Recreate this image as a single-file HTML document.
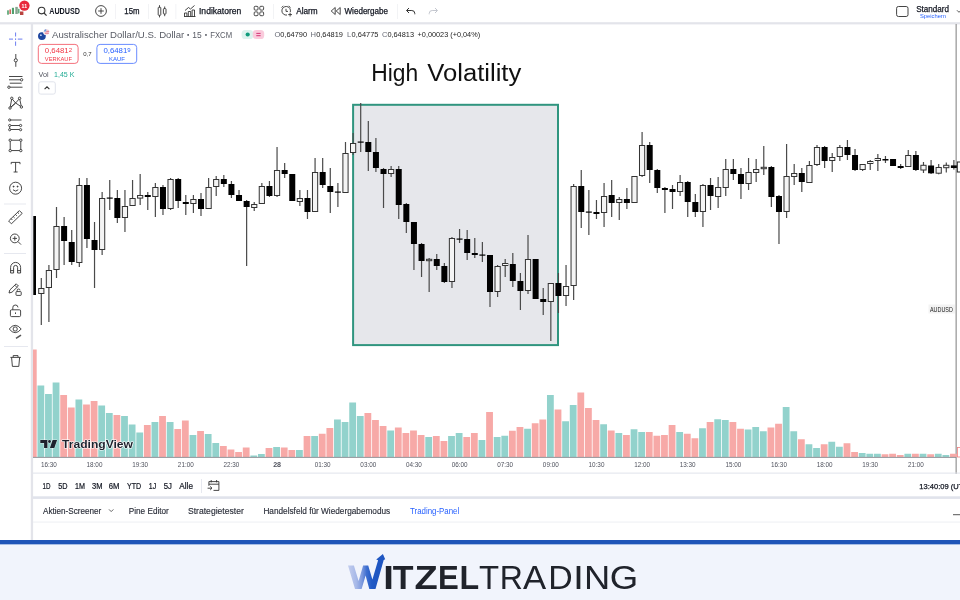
<!DOCTYPE html><html><head><meta charset="utf-8"><style>html,body{margin:0;padding:0;background:#fff;width:960px;height:600px;overflow:hidden}svg{display:block;will-change:transform;opacity:0.9999}</style></head><body><svg width="960" height="600" viewBox="0 0 960 600" font-family="Liberation Sans, sans-serif">
<rect width="960" height="600" fill="#fff"/>
<rect x="0" y="22.2" width="960" height="2.2" fill="#e3e4ea"/>
<rect x="30.8" y="24" width="2.3" height="516" fill="#e3e4ea"/>
<rect x="955.5" y="24" width="1.3" height="450" fill="#9b9b9b"/>
<rect x="353.1" y="104.8" width="204.9" height="240.3" fill="#e6e7eb" stroke="#30957f" stroke-width="2"/>
<rect x="33" y="349.5" width="3.7" height="107.5" fill="#f7a9a7"/>
<rect x="37.45" y="385.5" width="6.8" height="71.50" fill="#92d2cc"/>
<rect x="45.05" y="394" width="6.8" height="63.00" fill="#92d2cc"/>
<rect x="52.65" y="382.5" width="6.8" height="74.50" fill="#92d2cc"/>
<rect x="60.26" y="395" width="6.8" height="62.00" fill="#f7a9a7"/>
<rect x="67.87" y="407.5" width="6.8" height="49.50" fill="#f7a9a7"/>
<rect x="75.47" y="399.5" width="6.8" height="57.50" fill="#92d2cc"/>
<rect x="83.08" y="404.5" width="6.8" height="52.50" fill="#f7a9a7"/>
<rect x="90.68" y="401" width="6.8" height="56.00" fill="#f7a9a7"/>
<rect x="98.28" y="405.5" width="6.8" height="51.50" fill="#92d2cc"/>
<rect x="105.89" y="413" width="6.8" height="44.00" fill="#92d2cc"/>
<rect x="113.50" y="415" width="6.8" height="42.00" fill="#f7a9a7"/>
<rect x="121.10" y="416" width="6.8" height="41.00" fill="#92d2cc"/>
<rect x="128.71" y="424.5" width="6.8" height="32.50" fill="#92d2cc"/>
<rect x="136.31" y="432.5" width="6.8" height="24.50" fill="#92d2cc"/>
<rect x="143.92" y="425" width="6.8" height="32.00" fill="#f7a9a7"/>
<rect x="151.52" y="422" width="6.8" height="35.00" fill="#92d2cc"/>
<rect x="159.12" y="416" width="6.8" height="41.00" fill="#f7a9a7"/>
<rect x="166.73" y="422" width="6.8" height="35.00" fill="#92d2cc"/>
<rect x="174.34" y="429" width="6.8" height="28.00" fill="#f7a9a7"/>
<rect x="181.94" y="420.5" width="6.8" height="36.50" fill="#f7a9a7"/>
<rect x="189.55" y="435" width="6.8" height="22.00" fill="#92d2cc"/>
<rect x="197.15" y="431" width="6.8" height="26.00" fill="#f7a9a7"/>
<rect x="204.76" y="434" width="6.8" height="23.00" fill="#92d2cc"/>
<rect x="212.36" y="443" width="6.8" height="14.00" fill="#92d2cc"/>
<rect x="219.97" y="446" width="6.8" height="11.00" fill="#f7a9a7"/>
<rect x="227.57" y="449.5" width="6.8" height="7.50" fill="#f7a9a7"/>
<rect x="235.18" y="452" width="6.8" height="5.00" fill="#f7a9a7"/>
<rect x="242.78" y="447.5" width="6.8" height="9.50" fill="#f7a9a7"/>
<rect x="250.39" y="455.5" width="6.8" height="1.50" fill="#92d2cc"/>
<rect x="257.99" y="454" width="6.8" height="3.00" fill="#92d2cc"/>
<rect x="265.59" y="448" width="6.8" height="9.00" fill="#f7a9a7"/>
<rect x="273.20" y="447" width="6.8" height="10.00" fill="#92d2cc"/>
<rect x="280.81" y="447.5" width="6.8" height="9.50" fill="#f7a9a7"/>
<rect x="288.41" y="450" width="6.8" height="7.00" fill="#f7a9a7"/>
<rect x="296.01" y="450" width="6.8" height="7.00" fill="#92d2cc"/>
<rect x="303.62" y="436" width="6.8" height="21.00" fill="#f7a9a7"/>
<rect x="311.22" y="436" width="6.8" height="21.00" fill="#92d2cc"/>
<rect x="318.83" y="433.75" width="6.8" height="23.25" fill="#f7a9a7"/>
<rect x="326.43" y="428" width="6.8" height="29.00" fill="#f7a9a7"/>
<rect x="334.04" y="419.5" width="6.8" height="37.50" fill="#92d2cc"/>
<rect x="341.64" y="422" width="6.8" height="35.00" fill="#92d2cc"/>
<rect x="349.25" y="402.5" width="6.8" height="54.50" fill="#92d2cc"/>
<rect x="356.85" y="416" width="6.8" height="41.00" fill="#92d2cc"/>
<rect x="364.46" y="413" width="6.8" height="44.00" fill="#f7a9a7"/>
<rect x="372.06" y="420" width="6.8" height="37.00" fill="#f7a9a7"/>
<rect x="379.67" y="426" width="6.8" height="31.00" fill="#f7a9a7"/>
<rect x="387.27" y="430.5" width="6.8" height="26.50" fill="#92d2cc"/>
<rect x="394.88" y="427.5" width="6.8" height="29.50" fill="#f7a9a7"/>
<rect x="402.48" y="433" width="6.8" height="24.00" fill="#f7a9a7"/>
<rect x="410.09" y="430.5" width="6.8" height="26.50" fill="#f7a9a7"/>
<rect x="417.69" y="435" width="6.8" height="22.00" fill="#f7a9a7"/>
<rect x="425.30" y="437" width="6.8" height="20.00" fill="#92d2cc"/>
<rect x="432.90" y="436" width="6.8" height="21.00" fill="#f7a9a7"/>
<rect x="440.51" y="441" width="6.8" height="16.00" fill="#f7a9a7"/>
<rect x="448.11" y="436" width="6.8" height="21.00" fill="#92d2cc"/>
<rect x="455.72" y="433" width="6.8" height="24.00" fill="#92d2cc"/>
<rect x="463.32" y="437" width="6.8" height="20.00" fill="#f7a9a7"/>
<rect x="470.93" y="433" width="6.8" height="24.00" fill="#f7a9a7"/>
<rect x="478.53" y="440" width="6.8" height="17.00" fill="#92d2cc"/>
<rect x="486.14" y="412" width="6.8" height="45.00" fill="#f7a9a7"/>
<rect x="493.75" y="437" width="6.8" height="20.00" fill="#92d2cc"/>
<rect x="501.35" y="435.75" width="6.8" height="21.25" fill="#92d2cc"/>
<rect x="508.96" y="430.75" width="6.8" height="26.25" fill="#f7a9a7"/>
<rect x="516.56" y="427" width="6.8" height="30.00" fill="#f7a9a7"/>
<rect x="524.16" y="428.75" width="6.8" height="28.25" fill="#92d2cc"/>
<rect x="531.77" y="423.25" width="6.8" height="33.75" fill="#f7a9a7"/>
<rect x="539.38" y="419.5" width="6.8" height="37.50" fill="#f7a9a7"/>
<rect x="546.98" y="395" width="6.8" height="62.00" fill="#92d2cc"/>
<rect x="554.59" y="409.5" width="6.8" height="47.50" fill="#f7a9a7"/>
<rect x="562.19" y="421.25" width="6.8" height="35.75" fill="#92d2cc"/>
<rect x="569.79" y="405" width="6.8" height="52.00" fill="#92d2cc"/>
<rect x="577.40" y="392.5" width="6.8" height="64.50" fill="#f7a9a7"/>
<rect x="585.00" y="408" width="6.8" height="49.00" fill="#f7a9a7"/>
<rect x="592.61" y="420" width="6.8" height="37.00" fill="#f7a9a7"/>
<rect x="600.22" y="424.25" width="6.8" height="32.75" fill="#92d2cc"/>
<rect x="607.82" y="430.5" width="6.8" height="26.50" fill="#f7a9a7"/>
<rect x="615.42" y="433" width="6.8" height="24.00" fill="#92d2cc"/>
<rect x="623.03" y="435" width="6.8" height="22.00" fill="#f7a9a7"/>
<rect x="630.63" y="429.25" width="6.8" height="27.75" fill="#92d2cc"/>
<rect x="638.24" y="432" width="6.8" height="25.00" fill="#92d2cc"/>
<rect x="645.85" y="432" width="6.8" height="25.00" fill="#f7a9a7"/>
<rect x="653.45" y="435.75" width="6.8" height="21.25" fill="#f7a9a7"/>
<rect x="661.05" y="435" width="6.8" height="22.00" fill="#f7a9a7"/>
<rect x="668.66" y="425" width="6.8" height="32.00" fill="#f7a9a7"/>
<rect x="676.26" y="432" width="6.8" height="25.00" fill="#92d2cc"/>
<rect x="683.87" y="433.75" width="6.8" height="23.25" fill="#f7a9a7"/>
<rect x="691.48" y="438.25" width="6.8" height="18.75" fill="#f7a9a7"/>
<rect x="699.08" y="428.25" width="6.8" height="28.75" fill="#92d2cc"/>
<rect x="706.68" y="422" width="6.8" height="35.00" fill="#f7a9a7"/>
<rect x="714.29" y="419.25" width="6.8" height="37.75" fill="#92d2cc"/>
<rect x="721.89" y="420" width="6.8" height="37.00" fill="#92d2cc"/>
<rect x="729.50" y="422" width="6.8" height="35.00" fill="#f7a9a7"/>
<rect x="737.11" y="428.75" width="6.8" height="28.25" fill="#f7a9a7"/>
<rect x="744.71" y="429.5" width="6.8" height="27.50" fill="#92d2cc"/>
<rect x="752.31" y="427" width="6.8" height="30.00" fill="#92d2cc"/>
<rect x="759.92" y="431.25" width="6.8" height="25.75" fill="#92d2cc"/>
<rect x="767.52" y="427.5" width="6.8" height="29.50" fill="#f7a9a7"/>
<rect x="775.13" y="423.75" width="6.8" height="33.25" fill="#f7a9a7"/>
<rect x="782.74" y="407" width="6.8" height="50.00" fill="#92d2cc"/>
<rect x="790.34" y="431.25" width="6.8" height="25.75" fill="#92d2cc"/>
<rect x="797.95" y="439.25" width="6.8" height="17.75" fill="#f7a9a7"/>
<rect x="805.55" y="444.25" width="6.8" height="12.75" fill="#92d2cc"/>
<rect x="813.15" y="448" width="6.8" height="9.00" fill="#92d2cc"/>
<rect x="820.76" y="444.25" width="6.8" height="12.75" fill="#f7a9a7"/>
<rect x="828.37" y="441.75" width="6.8" height="15.25" fill="#92d2cc"/>
<rect x="835.97" y="446.75" width="6.8" height="10.25" fill="#92d2cc"/>
<rect x="843.58" y="443.25" width="6.8" height="13.75" fill="#f7a9a7"/>
<rect x="851.18" y="452" width="6.8" height="5.00" fill="#f7a9a7"/>
<rect x="858.78" y="453" width="6.8" height="4.00" fill="#92d2cc"/>
<rect x="866.39" y="453.75" width="6.8" height="3.25" fill="#92d2cc"/>
<rect x="874.00" y="453.75" width="6.8" height="3.25" fill="#92d2cc"/>
<rect x="881.60" y="454.25" width="6.8" height="2.75" fill="#f7a9a7"/>
<rect x="889.21" y="453.75" width="6.8" height="3.25" fill="#f7a9a7"/>
<rect x="896.81" y="455" width="6.8" height="2.00" fill="#f7a9a7"/>
<rect x="904.41" y="453.75" width="6.8" height="3.25" fill="#92d2cc"/>
<rect x="912.02" y="453.75" width="6.8" height="3.25" fill="#f7a9a7"/>
<rect x="919.62" y="453.75" width="6.8" height="3.25" fill="#92d2cc"/>
<rect x="927.23" y="454.25" width="6.8" height="2.75" fill="#f7a9a7"/>
<rect x="934.84" y="453.75" width="6.8" height="3.25" fill="#92d2cc"/>
<rect x="942.44" y="455" width="6.8" height="2.00" fill="#92d2cc"/>
<rect x="950.04" y="453.75" width="6.8" height="3.25" fill="#f7a9a7"/>
<rect x="957.5" y="447.5" width="4" height="9.5" fill="#fff" stroke="#f08080" stroke-width="0.8"/>
<rect x="33" y="456.9" width="923" height="0.9" fill="#85888e"/>
<rect x="33.3" y="216" width="2.7" height="79" fill="#000"/>
<rect x="40.70" y="278" width="1.2" height="47" fill="#4a4a4a"/>
<rect x="38.70" y="288.5" width="5.2" height="5" fill="#f4f4f4" stroke="#333" stroke-width="1"/>
<rect x="48.30" y="265" width="1.2" height="57" fill="#4a4a4a"/>
<rect x="46.30" y="270.5" width="5.2" height="17" fill="#f4f4f4" stroke="#333" stroke-width="1"/>
<rect x="55.90" y="207" width="1.2" height="71" fill="#4a4a4a"/>
<rect x="53.90" y="226.5" width="5.2" height="43" fill="#f4f4f4" stroke="#333" stroke-width="1"/>
<rect x="63.51" y="217" width="1.2" height="48" fill="#4a4a4a"/>
<rect x="61.11" y="226" width="6" height="15" fill="#000"/>
<rect x="71.12" y="230" width="1.2" height="35" fill="#4a4a4a"/>
<rect x="68.72" y="242" width="6" height="20" fill="#000"/>
<rect x="78.72" y="178" width="1.2" height="89" fill="#4a4a4a"/>
<rect x="76.72" y="185.5" width="5.2" height="77" fill="#f4f4f4" stroke="#333" stroke-width="1"/>
<rect x="86.33" y="178" width="1.2" height="70" fill="#4a4a4a"/>
<rect x="83.93" y="185" width="6" height="54" fill="#000"/>
<rect x="93.93" y="222" width="1.2" height="66" fill="#4a4a4a"/>
<rect x="91.53" y="240" width="6" height="10" fill="#000"/>
<rect x="101.53" y="192" width="1.2" height="63" fill="#4a4a4a"/>
<rect x="99.53" y="198.5" width="5.2" height="51" fill="#f4f4f4" stroke="#333" stroke-width="1"/>
<rect x="109.14" y="180" width="1.2" height="30" fill="#4a4a4a"/>
<rect x="106.74" y="197.5" width="6" height="1.2" fill="#000"/>
<rect x="116.75" y="190" width="1.2" height="33" fill="#4a4a4a"/>
<rect x="114.34" y="198" width="6" height="20" fill="#000"/>
<rect x="124.35" y="190" width="1.2" height="42" fill="#4a4a4a"/>
<rect x="122.35" y="206.5" width="5.2" height="11" fill="#f4f4f4" stroke="#333" stroke-width="1"/>
<rect x="131.96" y="180" width="1.2" height="26" fill="#4a4a4a"/>
<rect x="129.96" y="198.5" width="5.2" height="7" fill="#f4f4f4" stroke="#333" stroke-width="1"/>
<rect x="139.56" y="174" width="1.2" height="31" fill="#4a4a4a"/>
<rect x="137.56" y="195.5" width="5.2" height="2.5999999999999943" fill="#f4f4f4" stroke="#333" stroke-width="1"/>
<rect x="147.17" y="192" width="1.2" height="18" fill="#4a4a4a"/>
<rect x="144.77" y="195" width="6" height="2" fill="#000"/>
<rect x="154.77" y="183" width="1.2" height="34" fill="#4a4a4a"/>
<rect x="152.77" y="187.5" width="5.2" height="9" fill="#f4f4f4" stroke="#333" stroke-width="1"/>
<rect x="162.38" y="185" width="1.2" height="30" fill="#4a4a4a"/>
<rect x="159.97" y="187" width="6" height="22" fill="#000"/>
<rect x="169.98" y="178" width="1.2" height="32" fill="#4a4a4a"/>
<rect x="167.98" y="179.5" width="5.2" height="29" fill="#f4f4f4" stroke="#333" stroke-width="1"/>
<rect x="177.59" y="178" width="1.2" height="30" fill="#4a4a4a"/>
<rect x="175.19" y="179" width="6" height="22" fill="#000"/>
<rect x="185.19" y="195" width="1.2" height="20" fill="#4a4a4a"/>
<rect x="182.79" y="202" width="6" height="2" fill="#000"/>
<rect x="192.80" y="195" width="1.2" height="18" fill="#4a4a4a"/>
<rect x="190.80" y="199.5" width="5.2" height="4" fill="#f4f4f4" stroke="#333" stroke-width="1"/>
<rect x="200.40" y="193" width="1.2" height="23" fill="#4a4a4a"/>
<rect x="198.00" y="199" width="6" height="10" fill="#000"/>
<rect x="208.01" y="178" width="1.2" height="31" fill="#4a4a4a"/>
<rect x="206.01" y="187.5" width="5.2" height="21" fill="#f4f4f4" stroke="#333" stroke-width="1"/>
<rect x="215.61" y="176" width="1.2" height="20" fill="#4a4a4a"/>
<rect x="213.61" y="179.5" width="5.2" height="7" fill="#f4f4f4" stroke="#333" stroke-width="1"/>
<rect x="223.22" y="175" width="1.2" height="12" fill="#4a4a4a"/>
<rect x="220.82" y="179" width="6" height="5" fill="#000"/>
<rect x="230.82" y="181" width="1.2" height="17" fill="#4a4a4a"/>
<rect x="228.42" y="184" width="6" height="11" fill="#000"/>
<rect x="238.43" y="190" width="1.2" height="11" fill="#4a4a4a"/>
<rect x="236.03" y="195" width="6" height="6" fill="#000"/>
<rect x="246.03" y="200" width="1.2" height="66" fill="#4a4a4a"/>
<rect x="243.63" y="201" width="6" height="6" fill="#000"/>
<rect x="253.64" y="202" width="1.2" height="9" fill="#4a4a4a"/>
<rect x="251.64" y="204.5" width="5.2" height="3" fill="#f4f4f4" stroke="#333" stroke-width="1"/>
<rect x="261.24" y="183" width="1.2" height="21" fill="#4a4a4a"/>
<rect x="259.24" y="186.5" width="5.2" height="17" fill="#f4f4f4" stroke="#333" stroke-width="1"/>
<rect x="268.84" y="181" width="1.2" height="16" fill="#4a4a4a"/>
<rect x="266.44" y="186" width="6" height="10" fill="#000"/>
<rect x="276.45" y="147" width="1.2" height="50" fill="#4a4a4a"/>
<rect x="274.45" y="170.5" width="5.2" height="25" fill="#f4f4f4" stroke="#333" stroke-width="1"/>
<rect x="284.06" y="163" width="1.2" height="15" fill="#4a4a4a"/>
<rect x="281.66" y="170" width="6" height="4" fill="#000"/>
<rect x="291.66" y="174" width="1.2" height="27" fill="#4a4a4a"/>
<rect x="289.26" y="174" width="6" height="27" fill="#000"/>
<rect x="299.26" y="190" width="1.2" height="16" fill="#4a4a4a"/>
<rect x="297.26" y="198.5" width="5.2" height="3" fill="#f4f4f4" stroke="#333" stroke-width="1"/>
<rect x="306.87" y="190" width="1.2" height="29" fill="#4a4a4a"/>
<rect x="304.47" y="198" width="6" height="14" fill="#000"/>
<rect x="314.47" y="158" width="1.2" height="54" fill="#4a4a4a"/>
<rect x="312.47" y="172.5" width="5.2" height="39" fill="#f4f4f4" stroke="#333" stroke-width="1"/>
<rect x="322.08" y="158" width="1.2" height="30" fill="#4a4a4a"/>
<rect x="319.68" y="172" width="6" height="13" fill="#000"/>
<rect x="329.68" y="168" width="1.2" height="45" fill="#4a4a4a"/>
<rect x="327.28" y="186" width="6" height="6" fill="#000"/>
<rect x="337.29" y="183" width="1.2" height="24" fill="#4a4a4a"/>
<rect x="334.89" y="191.5" width="6" height="1.2" fill="#000"/>
<rect x="344.89" y="142" width="1.2" height="51" fill="#4a4a4a"/>
<rect x="342.89" y="153.5" width="5.2" height="39" fill="#f4f4f4" stroke="#333" stroke-width="1"/>
<rect x="352.50" y="133" width="1.2" height="22" fill="#4a4a4a"/>
<rect x="350.50" y="143.5" width="5.2" height="9" fill="#f4f4f4" stroke="#333" stroke-width="1"/>
<rect x="360.10" y="103" width="1.2" height="49" fill="#4a4a4a"/>
<rect x="357.70" y="141.5" width="6" height="1.2" fill="#000"/>
<rect x="367.71" y="121" width="1.2" height="50" fill="#4a4a4a"/>
<rect x="365.31" y="142" width="6" height="10" fill="#000"/>
<rect x="375.31" y="138" width="1.2" height="34" fill="#4a4a4a"/>
<rect x="372.92" y="152" width="6" height="16" fill="#000"/>
<rect x="382.92" y="168" width="1.2" height="40" fill="#4a4a4a"/>
<rect x="380.52" y="169" width="6" height="5" fill="#000"/>
<rect x="390.52" y="166" width="1.2" height="11" fill="#4a4a4a"/>
<rect x="388.52" y="169.5" width="5.2" height="4" fill="#f4f4f4" stroke="#333" stroke-width="1"/>
<rect x="398.13" y="166" width="1.2" height="53" fill="#4a4a4a"/>
<rect x="395.73" y="169" width="6" height="36" fill="#000"/>
<rect x="405.73" y="203" width="1.2" height="30" fill="#4a4a4a"/>
<rect x="403.33" y="204" width="6" height="18" fill="#000"/>
<rect x="413.34" y="222" width="1.2" height="48" fill="#4a4a4a"/>
<rect x="410.94" y="222" width="6" height="22" fill="#000"/>
<rect x="420.94" y="243" width="1.2" height="34" fill="#4a4a4a"/>
<rect x="418.55" y="244" width="6" height="17" fill="#000"/>
<rect x="428.55" y="258" width="1.2" height="34" fill="#4a4a4a"/>
<rect x="426.55" y="259.3" width="5.2" height="1.4" fill="#f4f4f4" stroke="#333" stroke-width="1"/>
<rect x="436.15" y="254" width="1.2" height="16" fill="#4a4a4a"/>
<rect x="433.75" y="259" width="6" height="7" fill="#000"/>
<rect x="443.76" y="263" width="1.2" height="20" fill="#4a4a4a"/>
<rect x="441.36" y="266" width="6" height="16" fill="#000"/>
<rect x="451.36" y="237" width="1.2" height="51" fill="#4a4a4a"/>
<rect x="449.36" y="238.5" width="5.2" height="43" fill="#f4f4f4" stroke="#333" stroke-width="1"/>
<rect x="458.97" y="229" width="1.2" height="14" fill="#4a4a4a"/>
<rect x="456.57" y="238.5" width="6" height="1.2" fill="#000"/>
<rect x="466.57" y="230" width="1.2" height="30" fill="#4a4a4a"/>
<rect x="464.18" y="239" width="6" height="14" fill="#000"/>
<rect x="474.18" y="238" width="1.2" height="20" fill="#4a4a4a"/>
<rect x="471.78" y="253" width="6" height="2" fill="#000"/>
<rect x="481.78" y="242" width="1.2" height="20" fill="#4a4a4a"/>
<rect x="479.38" y="254.5" width="6" height="1.2" fill="#000"/>
<rect x="489.39" y="255" width="1.2" height="52" fill="#4a4a4a"/>
<rect x="486.99" y="255" width="6" height="37" fill="#000"/>
<rect x="497.00" y="265" width="1.2" height="32" fill="#4a4a4a"/>
<rect x="495.00" y="266.5" width="5.2" height="25" fill="#f4f4f4" stroke="#333" stroke-width="1"/>
<rect x="504.60" y="259" width="1.2" height="18" fill="#4a4a4a"/>
<rect x="502.60" y="263.5" width="5.2" height="2" fill="#f4f4f4" stroke="#333" stroke-width="1"/>
<rect x="512.21" y="253" width="1.2" height="34" fill="#4a4a4a"/>
<rect x="509.81" y="264" width="6" height="17" fill="#000"/>
<rect x="519.81" y="273" width="1.2" height="37" fill="#4a4a4a"/>
<rect x="517.41" y="281" width="6" height="10" fill="#000"/>
<rect x="527.41" y="235" width="1.2" height="59" fill="#4a4a4a"/>
<rect x="525.41" y="259.5" width="5.2" height="31" fill="#f4f4f4" stroke="#333" stroke-width="1"/>
<rect x="535.02" y="259" width="1.2" height="40" fill="#4a4a4a"/>
<rect x="532.62" y="259" width="6" height="40" fill="#000"/>
<rect x="542.62" y="288" width="1.2" height="27" fill="#4a4a4a"/>
<rect x="540.23" y="299" width="6" height="3" fill="#000"/>
<rect x="550.23" y="283" width="1.2" height="58" fill="#4a4a4a"/>
<rect x="548.23" y="283.5" width="5.2" height="18" fill="#f4f4f4" stroke="#333" stroke-width="1"/>
<rect x="557.84" y="273" width="1.2" height="40" fill="#4a4a4a"/>
<rect x="555.44" y="283" width="6" height="13" fill="#000"/>
<rect x="565.44" y="265" width="1.2" height="41" fill="#4a4a4a"/>
<rect x="563.44" y="286.5" width="5.2" height="9" fill="#f4f4f4" stroke="#333" stroke-width="1"/>
<rect x="573.04" y="184" width="1.2" height="116" fill="#4a4a4a"/>
<rect x="571.04" y="186.5" width="5.2" height="99" fill="#f4f4f4" stroke="#333" stroke-width="1"/>
<rect x="580.65" y="170" width="1.2" height="58" fill="#4a4a4a"/>
<rect x="578.25" y="186" width="6" height="26" fill="#000"/>
<rect x="588.25" y="190" width="1.2" height="45" fill="#4a4a4a"/>
<rect x="585.86" y="211.5" width="6" height="1.2" fill="#000"/>
<rect x="595.86" y="200" width="1.2" height="19" fill="#4a4a4a"/>
<rect x="593.46" y="212" width="6" height="2" fill="#000"/>
<rect x="603.47" y="183" width="1.2" height="44" fill="#4a4a4a"/>
<rect x="601.47" y="196.5" width="5.2" height="16" fill="#f4f4f4" stroke="#333" stroke-width="1"/>
<rect x="611.07" y="180" width="1.2" height="37" fill="#4a4a4a"/>
<rect x="608.67" y="195" width="6" height="8" fill="#000"/>
<rect x="618.67" y="197" width="1.2" height="23" fill="#4a4a4a"/>
<rect x="616.67" y="199.5" width="5.2" height="3" fill="#f4f4f4" stroke="#333" stroke-width="1"/>
<rect x="626.28" y="188" width="1.2" height="21" fill="#4a4a4a"/>
<rect x="623.88" y="199" width="6" height="4" fill="#000"/>
<rect x="633.88" y="176" width="1.2" height="27" fill="#4a4a4a"/>
<rect x="631.88" y="176.5" width="5.2" height="26" fill="#f4f4f4" stroke="#333" stroke-width="1"/>
<rect x="641.49" y="132" width="1.2" height="45" fill="#4a4a4a"/>
<rect x="639.49" y="145.5" width="5.2" height="30" fill="#f4f4f4" stroke="#333" stroke-width="1"/>
<rect x="649.10" y="142" width="1.2" height="41" fill="#4a4a4a"/>
<rect x="646.70" y="145" width="6" height="25" fill="#000"/>
<rect x="656.70" y="169" width="1.2" height="24" fill="#4a4a4a"/>
<rect x="654.30" y="170" width="6" height="18" fill="#000"/>
<rect x="664.30" y="187" width="1.2" height="26" fill="#4a4a4a"/>
<rect x="661.90" y="188" width="6" height="2" fill="#000"/>
<rect x="671.91" y="185" width="1.2" height="24" fill="#4a4a4a"/>
<rect x="669.51" y="189" width="6" height="3" fill="#000"/>
<rect x="679.51" y="175" width="1.2" height="21" fill="#4a4a4a"/>
<rect x="677.51" y="182.5" width="5.2" height="9" fill="#f4f4f4" stroke="#333" stroke-width="1"/>
<rect x="687.12" y="181" width="1.2" height="36" fill="#4a4a4a"/>
<rect x="684.72" y="182" width="6" height="20" fill="#000"/>
<rect x="694.73" y="194" width="1.2" height="23" fill="#4a4a4a"/>
<rect x="692.33" y="202" width="6" height="10" fill="#000"/>
<rect x="702.33" y="184" width="1.2" height="43" fill="#4a4a4a"/>
<rect x="700.33" y="185.5" width="5.2" height="26" fill="#f4f4f4" stroke="#333" stroke-width="1"/>
<rect x="709.93" y="178" width="1.2" height="32" fill="#4a4a4a"/>
<rect x="707.53" y="185" width="6" height="11" fill="#000"/>
<rect x="717.54" y="177" width="1.2" height="31" fill="#4a4a4a"/>
<rect x="715.54" y="187.5" width="5.2" height="9" fill="#f4f4f4" stroke="#333" stroke-width="1"/>
<rect x="725.14" y="159" width="1.2" height="37" fill="#4a4a4a"/>
<rect x="723.14" y="169.5" width="5.2" height="18" fill="#f4f4f4" stroke="#333" stroke-width="1"/>
<rect x="732.75" y="159" width="1.2" height="21" fill="#4a4a4a"/>
<rect x="730.35" y="169" width="6" height="5" fill="#000"/>
<rect x="740.36" y="168" width="1.2" height="31" fill="#4a4a4a"/>
<rect x="737.96" y="174" width="6" height="10" fill="#000"/>
<rect x="747.96" y="158" width="1.2" height="32" fill="#4a4a4a"/>
<rect x="745.96" y="172.5" width="5.2" height="11" fill="#f4f4f4" stroke="#333" stroke-width="1"/>
<rect x="755.56" y="159" width="1.2" height="23" fill="#4a4a4a"/>
<rect x="753.56" y="169.5" width="5.2" height="3" fill="#f4f4f4" stroke="#333" stroke-width="1"/>
<rect x="763.17" y="146" width="1.2" height="29" fill="#4a4a4a"/>
<rect x="761.17" y="167.3" width="5.2" height="1.4" fill="#f4f4f4" stroke="#333" stroke-width="1"/>
<rect x="770.77" y="166" width="1.2" height="41" fill="#4a4a4a"/>
<rect x="768.38" y="167" width="6" height="30" fill="#000"/>
<rect x="778.38" y="195" width="1.2" height="49" fill="#4a4a4a"/>
<rect x="775.98" y="196" width="6" height="16" fill="#000"/>
<rect x="785.99" y="144" width="1.2" height="74" fill="#4a4a4a"/>
<rect x="783.99" y="176.5" width="5.2" height="35" fill="#f4f4f4" stroke="#333" stroke-width="1"/>
<rect x="793.59" y="164" width="1.2" height="21" fill="#4a4a4a"/>
<rect x="791.59" y="173.5" width="5.2" height="3" fill="#f4f4f4" stroke="#333" stroke-width="1"/>
<rect x="801.20" y="168" width="1.2" height="24" fill="#4a4a4a"/>
<rect x="798.80" y="173" width="6" height="9" fill="#000"/>
<rect x="808.80" y="161" width="1.2" height="22" fill="#4a4a4a"/>
<rect x="806.80" y="165.5" width="5.2" height="17" fill="#f4f4f4" stroke="#333" stroke-width="1"/>
<rect x="816.40" y="145" width="1.2" height="21" fill="#4a4a4a"/>
<rect x="814.40" y="147.5" width="5.2" height="17" fill="#f4f4f4" stroke="#333" stroke-width="1"/>
<rect x="824.01" y="146" width="1.2" height="22" fill="#4a4a4a"/>
<rect x="821.61" y="147" width="6" height="14" fill="#000"/>
<rect x="831.62" y="153" width="1.2" height="19" fill="#4a4a4a"/>
<rect x="829.62" y="157.5" width="5.2" height="3" fill="#f4f4f4" stroke="#333" stroke-width="1"/>
<rect x="839.22" y="145" width="1.2" height="16" fill="#4a4a4a"/>
<rect x="837.22" y="147.5" width="5.2" height="9" fill="#f4f4f4" stroke="#333" stroke-width="1"/>
<rect x="846.83" y="140" width="1.2" height="20" fill="#4a4a4a"/>
<rect x="844.43" y="147" width="6" height="8" fill="#000"/>
<rect x="854.43" y="149" width="1.2" height="22" fill="#4a4a4a"/>
<rect x="852.03" y="155" width="6" height="15" fill="#000"/>
<rect x="862.03" y="164" width="1.2" height="7" fill="#4a4a4a"/>
<rect x="860.03" y="164.5" width="5.2" height="5" fill="#f4f4f4" stroke="#333" stroke-width="1"/>
<rect x="869.64" y="160" width="1.2" height="10" fill="#4a4a4a"/>
<rect x="867.64" y="161.5" width="5.2" height="2" fill="#f4f4f4" stroke="#333" stroke-width="1"/>
<rect x="877.25" y="154" width="1.2" height="17" fill="#4a4a4a"/>
<rect x="875.25" y="158.5" width="5.2" height="2" fill="#f4f4f4" stroke="#333" stroke-width="1"/>
<rect x="884.85" y="156" width="1.2" height="7" fill="#4a4a4a"/>
<rect x="882.45" y="159" width="6" height="1.5" fill="#000"/>
<rect x="892.46" y="159" width="1.2" height="7" fill="#4a4a4a"/>
<rect x="890.06" y="159" width="6" height="7" fill="#000"/>
<rect x="900.06" y="164" width="1.2" height="5" fill="#4a4a4a"/>
<rect x="897.66" y="166" width="6" height="2" fill="#000"/>
<rect x="907.66" y="150" width="1.2" height="17" fill="#4a4a4a"/>
<rect x="905.66" y="155.5" width="5.2" height="11" fill="#f4f4f4" stroke="#333" stroke-width="1"/>
<rect x="915.27" y="151" width="1.2" height="20" fill="#4a4a4a"/>
<rect x="912.87" y="155" width="6" height="15" fill="#000"/>
<rect x="922.88" y="162" width="1.2" height="11" fill="#4a4a4a"/>
<rect x="920.88" y="165.3" width="5.2" height="4.699999999999989" fill="#f4f4f4" stroke="#333" stroke-width="1"/>
<rect x="930.48" y="160" width="1.2" height="14" fill="#4a4a4a"/>
<rect x="928.08" y="165.5" width="6" height="7.800000000000011" fill="#000"/>
<rect x="938.09" y="164" width="1.2" height="10.300000000000011" fill="#4a4a4a"/>
<rect x="936.09" y="167.5" width="5.2" height="5.699999999999989" fill="#f4f4f4" stroke="#333" stroke-width="1"/>
<rect x="945.69" y="162.5" width="1.2" height="10.0" fill="#4a4a4a"/>
<rect x="943.69" y="165.3" width="5.2" height="2.3999999999999773" fill="#f4f4f4" stroke="#333" stroke-width="1"/>
<rect x="953.29" y="160" width="1.2" height="9.599999999999994" fill="#4a4a4a"/>
<rect x="950.89" y="165.4" width="6" height="2.5999999999999943" fill="#000"/>
<rect x="957.3" y="162" width="4" height="10" fill="#fff" stroke="#222" stroke-width="1"/>
<text x="48.9" y="467.2" font-size="7.1" fill="#50535e" font-weight="normal" text-anchor="middle" textLength="15.9" lengthAdjust="spacingAndGlyphs" >16:30</text>
<text x="94.5" y="467.2" font-size="7.1" fill="#50535e" font-weight="normal" text-anchor="middle" textLength="15.9" lengthAdjust="spacingAndGlyphs" >18:00</text>
<text x="140.2" y="467.2" font-size="7.1" fill="#50535e" font-weight="normal" text-anchor="middle" textLength="15.9" lengthAdjust="spacingAndGlyphs" >19:30</text>
<text x="185.8" y="467.2" font-size="7.1" fill="#50535e" font-weight="normal" text-anchor="middle" textLength="15.9" lengthAdjust="spacingAndGlyphs" >21:00</text>
<text x="231.4" y="467.2" font-size="7.1" fill="#50535e" font-weight="normal" text-anchor="middle" textLength="15.9" lengthAdjust="spacingAndGlyphs" >22:30</text>
<text x="277.1" y="467.2" font-size="7.1" fill="#50535e" font-weight="bold" text-anchor="middle" >28</text>
<text x="322.7" y="467.2" font-size="7.1" fill="#50535e" font-weight="normal" text-anchor="middle" textLength="15.9" lengthAdjust="spacingAndGlyphs" >01:30</text>
<text x="368.3" y="467.2" font-size="7.1" fill="#50535e" font-weight="normal" text-anchor="middle" textLength="15.9" lengthAdjust="spacingAndGlyphs" >03:00</text>
<text x="413.9" y="467.2" font-size="7.1" fill="#50535e" font-weight="normal" text-anchor="middle" textLength="15.9" lengthAdjust="spacingAndGlyphs" >04:30</text>
<text x="459.6" y="467.2" font-size="7.1" fill="#50535e" font-weight="normal" text-anchor="middle" textLength="15.9" lengthAdjust="spacingAndGlyphs" >06:00</text>
<text x="505.2" y="467.2" font-size="7.1" fill="#50535e" font-weight="normal" text-anchor="middle" textLength="15.9" lengthAdjust="spacingAndGlyphs" >07:30</text>
<text x="550.8" y="467.2" font-size="7.1" fill="#50535e" font-weight="normal" text-anchor="middle" textLength="15.9" lengthAdjust="spacingAndGlyphs" >09:00</text>
<text x="596.5" y="467.2" font-size="7.1" fill="#50535e" font-weight="normal" text-anchor="middle" textLength="15.9" lengthAdjust="spacingAndGlyphs" >10:30</text>
<text x="642.1" y="467.2" font-size="7.1" fill="#50535e" font-weight="normal" text-anchor="middle" textLength="15.9" lengthAdjust="spacingAndGlyphs" >12:00</text>
<text x="687.7" y="467.2" font-size="7.1" fill="#50535e" font-weight="normal" text-anchor="middle" textLength="15.9" lengthAdjust="spacingAndGlyphs" >13:30</text>
<text x="733.4" y="467.2" font-size="7.1" fill="#50535e" font-weight="normal" text-anchor="middle" textLength="15.9" lengthAdjust="spacingAndGlyphs" >15:00</text>
<text x="779.0" y="467.2" font-size="7.1" fill="#50535e" font-weight="normal" text-anchor="middle" textLength="15.9" lengthAdjust="spacingAndGlyphs" >16:30</text>
<text x="824.6" y="467.2" font-size="7.1" fill="#50535e" font-weight="normal" text-anchor="middle" textLength="15.9" lengthAdjust="spacingAndGlyphs" >18:00</text>
<text x="870.2" y="467.2" font-size="7.1" fill="#50535e" font-weight="normal" text-anchor="middle" textLength="15.9" lengthAdjust="spacingAndGlyphs" >19:30</text>
<text x="915.9" y="467.2" font-size="7.1" fill="#50535e" font-weight="normal" text-anchor="middle" textLength="15.9" lengthAdjust="spacingAndGlyphs" >21:00</text>
<rect x="33" y="472.6" width="927" height="1" fill="#e0e3eb"/>
<text x="371.2" y="80.6" font-size="23.3" fill="#111" font-weight="normal" text-anchor="start" textLength="47" lengthAdjust="spacingAndGlyphs" >High</text>
<text x="427.3" y="80.6" font-size="23.3" fill="#111" font-weight="normal" text-anchor="start" textLength="94" lengthAdjust="spacingAndGlyphs" >Volatility</text>
<rect x="928.5" y="304.5" width="26.5" height="9" fill="#f3f3f3"/>
<text x="930" y="311.9" font-size="7.2" fill="#222" font-weight="normal" text-anchor="start" textLength="22.9" lengthAdjust="spacingAndGlyphs" >AUDUSD</text>
<circle cx="41.9" cy="36.1" r="3.9" fill="#2047a0"/>
<circle cx="40.9" cy="35.2" r="0.9" fill="#c9d4ee"/>
<circle cx="46.4" cy="31.9" r="3.2" fill="#fff"/>
<circle cx="46.4" cy="31.9" r="2.8" fill="#f7dfe2"/>
<path d="M46.2 31.3h3M45 33.2h3.8" stroke="#e4506a" stroke-width="0.8"/>
<path d="M43.8 31.2 A2.8 2.8 0 0 1 46.2 29.1 L46.2 31.6 L43.7 31.6 Z" fill="#6f9fe0"/>
<text x="52" y="38.2" font-size="9.4" fill="#5a5d66" font-weight="normal" text-anchor="start" textLength="132.2" lengthAdjust="spacingAndGlyphs" >Australischer Dollar/U.S. Dollar</text>
<rect x="187.3" y="34.1" width="1.7" height="1.7" fill="#5a5d66"/>
<text x="192.3" y="38.2" font-size="9.4" fill="#5a5d66" font-weight="normal" text-anchor="start" textLength="9.4" lengthAdjust="spacingAndGlyphs" >15</text>
<rect x="205.1" y="34.1" width="1.7" height="1.7" fill="#5a5d66"/>
<text x="210.2" y="38.2" font-size="9.4" fill="#5a5d66" font-weight="normal" text-anchor="start" textLength="21.9" lengthAdjust="spacingAndGlyphs" >FXCM</text>
<rect x="241.6" y="30" width="11.6" height="9" rx="3.6" fill="#ddf3ee"/>
<rect x="252.8" y="30" width="11.4" height="9" rx="3.6" fill="#facbdc"/>
<circle cx="247.7" cy="34.5" r="2.1" fill="#109c7c"/>
<path d="M256.3 33.4h4.3M256.3 35.7h4.3" stroke="#d0246a" stroke-width="0.9"/>
<text x="274.5" y="37.3" font-size="7.6" fill="#6a6d78" font-weight="normal" text-anchor="start" >O</text>
<text x="280.3" y="37.3" font-size="7.6" fill="#222" font-weight="normal" text-anchor="start" textLength="26.8" lengthAdjust="spacingAndGlyphs" >0,64790</text>
<text x="310.5" y="37.3" font-size="7.6" fill="#6a6d78" font-weight="normal" text-anchor="start" >H</text>
<text x="316.2" y="37.3" font-size="7.6" fill="#222" font-weight="normal" text-anchor="start" textLength="26.8" lengthAdjust="spacingAndGlyphs" >0,64819</text>
<text x="347" y="37.3" font-size="7.6" fill="#6a6d78" font-weight="normal" text-anchor="start" >L</text>
<text x="351.6" y="37.3" font-size="7.6" fill="#222" font-weight="normal" text-anchor="start" textLength="26.8" lengthAdjust="spacingAndGlyphs" >0,64775</text>
<text x="382" y="37.3" font-size="7.6" fill="#6a6d78" font-weight="normal" text-anchor="start" >C</text>
<text x="387.4" y="37.3" font-size="7.6" fill="#222" font-weight="normal" text-anchor="start" textLength="26.6" lengthAdjust="spacingAndGlyphs" >0,64813</text>
<text x="417.6" y="37.3" font-size="7.6" fill="#222" font-weight="normal" text-anchor="start" textLength="62.5" lengthAdjust="spacingAndGlyphs" >+0,00023 (+0,04%)</text>
<rect x="38.3" y="44.4" width="39.8" height="19" rx="3.2" fill="#fff" stroke="#f4707c" stroke-width="1"/>
<text x="58.4" y="53.2" font-size="7.8" fill="#f23645" font-weight="normal" text-anchor="middle" >0,6481<tspan font-size="6" dy="-1.4">2</tspan></text>
<text x="58.4" y="60.9" font-size="6.1" fill="#f23645" font-weight="normal" text-anchor="middle" textLength="27.2" lengthAdjust="spacingAndGlyphs" >VERKAUF</text>
<text x="83.3" y="55.6" font-size="6" fill="#333" font-weight="normal" text-anchor="start" >0,7</text>
<rect x="96.9" y="44.4" width="39.8" height="19" rx="3.2" fill="#fff" stroke="#6a8cff" stroke-width="1"/>
<text x="117" y="53.2" font-size="7.8" fill="#2962ff" font-weight="normal" text-anchor="middle" >0,6481<tspan font-size="6" dy="-1.4">9</tspan></text>
<text x="117" y="60.9" font-size="6.1" fill="#2962ff" font-weight="normal" text-anchor="middle" textLength="16" lengthAdjust="spacingAndGlyphs" >KAUF</text>
<text x="38.6" y="77" font-size="7.4" fill="#50535e" font-weight="normal" text-anchor="start" textLength="10" lengthAdjust="spacingAndGlyphs" >Vol</text>
<text x="54" y="77" font-size="7.4" fill="#22ab94" font-weight="normal" text-anchor="start" textLength="20.4" lengthAdjust="spacingAndGlyphs" >1,45 K</text>
<rect x="38.8" y="81.8" width="16.5" height="12.3" rx="2" fill="#fff" stroke="#e0e3eb" stroke-width="1"/>
<path d="M44.6 89.2 L47 86.8 L49.4 89.2" fill="none" stroke="#333" stroke-width="1.1"/>
<g id="topbar">
<rect x="7.2" y="10.3" width="1.6" height="4.4" fill="#4fa06c"/><rect x="9.4" y="9.4" width="1.6" height="4.6" fill="#d0655c"/><rect x="11.9" y="7.8" width="2.1" height="6.2" fill="#4fa06c"/><rect x="15.3" y="6.9" width="2.5" height="7.1" fill="#86a58f"/><rect x="18.1" y="8.8" width="1.4" height="4.6" fill="#5aa878"/><rect x="20" y="11.5" width="3.4" height="3.5" fill="#b8433f"/>
<circle cx="24.4" cy="5.6" r="5.2" fill="#e8283c"/>
<text x="24.3" y="7.6" font-size="5.2" fill="#fff" font-weight="bold" text-anchor="middle" >11</text>
<circle cx="41.6" cy="10.6" r="3.3" fill="none" stroke="#333" stroke-width="1.1"/><path d="M44 13 L46.6 15.6" stroke="#333" stroke-width="1.2"/>
<text x="49.2" y="14.4" font-size="8.6" fill="#131722" font-weight="bold" text-anchor="start" textLength="30.8" lengthAdjust="spacingAndGlyphs" >AUDUSD</text>
<circle cx="101" cy="11" r="5.4" fill="none" stroke="#333" stroke-width="0.9"/><path d="M98.2 11h5.6M101 8.2v5.6" stroke="#333" stroke-width="0.9"/>
<rect x="115" y="4" width="0.8" height="15" fill="#f0f1f4"/>
<text x="124.3" y="14.3" font-size="8.2" fill="#131722" font-weight="normal" text-anchor="start" textLength="15.2" lengthAdjust="spacingAndGlyphs" stroke="#131722" stroke-width="0.25">15m</text>
<rect x="148" y="4" width="0.8" height="15" fill="#eff0f3"/>
<rect x="158.2" y="7.3" width="2.6" height="8" rx="0.6" fill="none" stroke="#333" stroke-width="0.9"/><path d="M159.5 5.2v2M159.5 15.4v2" stroke="#333" stroke-width="0.9"/>
<rect x="163.4" y="8.6" width="2.6" height="5.4" rx="0.6" fill="none" stroke="#333" stroke-width="0.9"/><path d="M164.7 6.5v2M164.7 14v2.2" stroke="#333" stroke-width="0.9"/>
<rect x="175.5" y="4" width="0.8" height="15" fill="#eff0f3"/>
<path d="M185 10.5 L188.5 7.5 L190.5 9 L194.5 5.5" fill="none" stroke="#333" stroke-width="0.9"/><path d="M184.5 16.5v-3.5h2.4v3.5M188.3 16.5v-5h2.4v5M192.1 16.5v-6.5h2.4v6.5M184 16.5h11.5" fill="none" stroke="#333" stroke-width="0.9"/>
<text x="199" y="14.3" font-size="8.2" fill="#131722" font-weight="normal" text-anchor="start" textLength="42.3" lengthAdjust="spacingAndGlyphs" stroke="#131722" stroke-width="0.25">Indikatoren</text>
<rect x="254.2" y="6.3" width="3.8" height="3.8" rx="1" fill="none" stroke="#333" stroke-width="0.9"/>
<rect x="254.2" y="11.9" width="3.8" height="3.8" rx="1" fill="none" stroke="#333" stroke-width="0.9"/>
<rect x="259.8" y="6.3" width="3.8" height="3.8" rx="1" fill="none" stroke="#333" stroke-width="0.9"/>
<rect x="259.8" y="11.9" width="3.8" height="3.8" rx="1" fill="none" stroke="#333" stroke-width="0.9"/>
<rect x="273" y="4" width="0.8" height="15" fill="#eff0f3"/>
<path d="M290.3 12 A4.3 4.3 0 1 0 287 15" fill="none" stroke="#333" stroke-width="0.9"/><path d="M286 8.8v2.6h2" fill="none" stroke="#333" stroke-width="0.9"/><path d="M281.6 7.6 L283.4 5.8M290.4 7.6 L288.6 5.8" stroke="#333" stroke-width="0.9"/><path d="M288.2 14.6h3.8M290.1 12.7v3.8" stroke="#333" stroke-width="0.9"/>
<text x="296.2" y="14.3" font-size="8.2" fill="#131722" font-weight="normal" text-anchor="start" textLength="21.5" lengthAdjust="spacingAndGlyphs" stroke="#131722" stroke-width="0.25">Alarm</text>
<path d="M335.2 7.5v7l-4-3.5zM340.2 7.5v7l-4-3.5z" fill="none" stroke="#333" stroke-width="0.9" stroke-linejoin="round"/>
<text x="344.5" y="14.3" font-size="8.2" fill="#131722" font-weight="normal" text-anchor="start" textLength="43.5" lengthAdjust="spacingAndGlyphs" stroke="#131722" stroke-width="0.25">Wiedergabe</text>
<rect x="397" y="4" width="0.8" height="15" fill="#eff0f3"/>
<path d="M409 8 L406.5 10.5 L409 13 M406.8 10.5 h5 a3 3 0 0 1 3 3 v0.8" fill="none" stroke="#333" stroke-width="1"/>
<path d="M435 8 L437.5 10.5 L435 13 M437.2 10.5 h-5 a3 3 0 0 0 -3 3 v0.8" fill="none" stroke="#c4c7cf" stroke-width="1"/>
<rect x="896.6" y="6.5" width="11.4" height="10" rx="1.8" fill="none" stroke="#444" stroke-width="1"/>
<text x="916.2" y="11.6" font-size="8.3" fill="#131722" font-weight="normal" text-anchor="start" textLength="32.8" lengthAdjust="spacingAndGlyphs" stroke="#131722" stroke-width="0.25">Standard</text>
<text x="920" y="18" font-size="5.6" fill="#2962ff" font-weight="normal" text-anchor="start" textLength="26" lengthAdjust="spacingAndGlyphs" >Speichern</text>
<path d="M957 10.3 L959 12.3 L961 10.3" fill="none" stroke="#444" stroke-width="0.9"/>
</g>
<g id="lefttools" fill="none" stroke="#333" stroke-width="0.9">
<path d="M15.6 32.5v4M15.6 41.5v4.3M9 39.1h4M17.8 39.1h4.6" stroke="#6c7df0" stroke-width="1"/><path d="M15.6 38.4v1.6" stroke="#6c7df0" stroke-width="1"/>
<path d="M15.8 54v4.6M15.8 62v4.8"/><circle cx="15.8" cy="60.3" r="1.6"/>
<path d="M9 76.5h13.5M9 79.8h11.5M9.8 83.2h11.8M9 87.2h13.5" /><circle cx="21.6" cy="79.8" r="1.2" fill="#fff"/><circle cx="8.9" cy="87.2" r="1.2" fill="#fff"/>
<path d="M10 108 L11.8 98.5 L15.6 103 L19.6 98.5 L21.4 106.8 L15.6 103 Z M10 108 L15.6 103"/><circle cx="11.8" cy="98.3" r="1.2" fill="#fff"/><circle cx="19.6" cy="98.3" r="1.2" fill="#fff"/><circle cx="10" cy="108" r="1.2" fill="#fff"/><circle cx="21.4" cy="107" r="1.2" fill="#fff"/>
<path d="M10 120h11.5M11 125.5h9M10 129.5h9.5M9.7 126.5v3"/><circle cx="9.7" cy="120" r="1.1" fill="#fff"/><circle cx="9.7" cy="125.5" r="1.1" fill="#fff"/><circle cx="20.6" cy="125.5" r="1.1" fill="#fff"/><circle cx="9.7" cy="129.7" r="1.1" fill="#fff"/><circle cx="20.6" cy="129.7" r="1.1" fill="#fff"/>
<rect x="10.2" y="140.2" width="10.6" height="10.4"/><circle cx="10.2" cy="140.2" r="1.2" fill="#fff"/><circle cx="20.8" cy="140.2" r="1.2" fill="#fff"/><circle cx="10.2" cy="150.6" r="1.2" fill="#fff"/><circle cx="20.8" cy="150.6" r="1.2" fill="#fff"/>
<path d="M11.2 164.2v-1.8h8.8v1.8M15.6 162.4v9.6M13.6 172h4"/>
<circle cx="15.6" cy="188.2" r="6"/><path d="M13 189.8q2.6 2.6 5.2 0"/><circle cx="13.6" cy="186.6" r="0.5" fill="#333"/><circle cx="17.6" cy="186.6" r="0.5" fill="#333"/>
<path d="M8.6 221 L19.4 210.6 L22.2 213.4 L11.4 223.8 Z M11 218.6l1.4 1.4M13.2 216.5l1.4 1.4M15.4 214.4l1.4 1.4M17.6 212.3l1.4 1.4"/>
<circle cx="14.8" cy="238.4" r="4.4"/><path d="M18 241.6 L21 244.6M12.6 238.4h4.4M14.8 236.2v4.4"/>
<path d="M10.6 273v-5.6a5 5 0 0 1 10 0v5.6h-3v-5.6a2 2 0 0 0 -4 0v5.6z M10.6 270.6h3M17.6 270.6h3"/>
<path d="M9 293 L9.8 290 L16.2 283.8 L18.4 286 L12 292.2 Z M14.8 285.2l2.2 2.2"/><rect x="16" y="291.6" width="5.2" height="3.8" rx="0.6" fill="#fff"/><path d="M17.2 291.6v-1.2a1.4 1.4 0 0 1 2.8 0"/>
<rect x="10.4" y="309.8" width="10.2" height="6.8" rx="1.2"/><path d="M12.8 309.8v-2a2.6 2.6 0 0 1 5.2 -0.4"/><path d="M15.5 312.4v1.6"/>
<path d="M9.2 329 Q15.2 321.6 21.2 329 Q15.2 336.4 9.2 329 Z"/><circle cx="15.2" cy="329" r="2.1"/><path d="M16 338.4 L21 335.2" stroke-width="1.6" stroke="#555"/>
<path d="M10.4 357.4h10.4M13.2 357.2v-1.6h4.8v1.6M11.6 357.6l0.8 8.8h6.4l0.8 -8.8"/>
</g>
<rect x="4" y="203.6" width="22" height="0.8" fill="#e0e3eb"/>
<rect x="4" y="253" width="22" height="0.8" fill="#e0e3eb"/>
<rect x="4" y="346.2" width="24" height="0.8" fill="#e0e3eb"/>
<g fill="#1e222d" stroke="#fff" stroke-width="0.6" paint-order="stroke"><path d="M40.3 440h7.1v7.9h-3.3v-4.9h-3.8z"/><circle cx="49.5" cy="441.5" r="1.4"/><path d="M52.6 440h4.5l-2.8 7.9h-4.4z"/></g>
<text x="62" y="447.9" font-size="11" fill="#1e222d" font-weight="bold" text-anchor="start" textLength="71" lengthAdjust="spacingAndGlyphs" stroke="#fff" stroke-width="1.2" paint-order="stroke" stroke-linejoin="round">TradingView</text>
<text x="42.5" y="489" font-size="8.3" fill="#131722" font-weight="normal" text-anchor="start" textLength="8" lengthAdjust="spacingAndGlyphs" stroke="#131722" stroke-width="0.2">1D</text>
<text x="58.2" y="489" font-size="8.3" fill="#131722" font-weight="normal" text-anchor="start" textLength="9.3" lengthAdjust="spacingAndGlyphs" stroke="#131722" stroke-width="0.2">5D</text>
<text x="75" y="489" font-size="8.3" fill="#131722" font-weight="normal" text-anchor="start" textLength="10" lengthAdjust="spacingAndGlyphs" stroke="#131722" stroke-width="0.2">1M</text>
<text x="92" y="489" font-size="8.3" fill="#131722" font-weight="normal" text-anchor="start" textLength="10.5" lengthAdjust="spacingAndGlyphs" stroke="#131722" stroke-width="0.2">3M</text>
<text x="108.8" y="489" font-size="8.3" fill="#131722" font-weight="normal" text-anchor="start" textLength="10.7" lengthAdjust="spacingAndGlyphs" stroke="#131722" stroke-width="0.2">6M</text>
<text x="127" y="489" font-size="8.3" fill="#131722" font-weight="normal" text-anchor="start" textLength="14.2" lengthAdjust="spacingAndGlyphs" stroke="#131722" stroke-width="0.2">YTD</text>
<text x="148.8" y="489" font-size="8.3" fill="#131722" font-weight="normal" text-anchor="start" textLength="7.4" lengthAdjust="spacingAndGlyphs" stroke="#131722" stroke-width="0.2">1J</text>
<text x="163.8" y="489" font-size="8.3" fill="#131722" font-weight="normal" text-anchor="start" textLength="8.2" lengthAdjust="spacingAndGlyphs" stroke="#131722" stroke-width="0.2">5J</text>
<text x="179.3" y="489" font-size="8.3" fill="#131722" font-weight="normal" text-anchor="start" textLength="13.7" lengthAdjust="spacingAndGlyphs" stroke="#131722" stroke-width="0.2">Alle</text>
<rect x="201" y="479" width="0.8" height="14" fill="#e0e3eb"/>
<path d="M213.5 490.4h5.4v-8.8h-10v4.2M208.9 484.2h10M211.2 480v2.4M216.6 480v2.4M207.6 488.2h4.2M210.2 486.4l1.8 1.8l-1.8 1.8" fill="none" stroke="#333" stroke-width="0.9"/>
<text x="919.3" y="489.3" font-size="7.8" fill="#131722" font-weight="normal" text-anchor="start" textLength="52" lengthAdjust="spacingAndGlyphs" stroke="#131722" stroke-width="0.25">13:40:09 (UTC)</text>
<rect x="33" y="496.3" width="927" height="2.6" fill="#e0e3eb"/>
<text x="43" y="513.7" font-size="8.8" fill="#2a2e39" font-weight="normal" text-anchor="start" textLength="58.3" lengthAdjust="spacingAndGlyphs" stroke="#2a2e39" stroke-width="0.15">Aktien-Screener</text>
<path d="M109 509.4 L111.2 511.6 L113.4 509.4" fill="none" stroke="#555" stroke-width="0.9"/>
<text x="128.8" y="513.7" font-size="8.8" fill="#2a2e39" font-weight="normal" text-anchor="start" textLength="40" lengthAdjust="spacingAndGlyphs" stroke="#2a2e39" stroke-width="0.15">Pine Editor</text>
<text x="188" y="513.7" font-size="8.8" fill="#2a2e39" font-weight="normal" text-anchor="start" textLength="55.8" lengthAdjust="spacingAndGlyphs" stroke="#2a2e39" stroke-width="0.15">Strategietester</text>
<text x="263.4" y="513.7" font-size="8.8" fill="#2a2e39" font-weight="normal" text-anchor="start" textLength="126.8" lengthAdjust="spacingAndGlyphs" stroke="#2a2e39" stroke-width="0.15">Handelsfeld für Wiedergabemodus</text>
<text x="410" y="513.7" font-size="8.8" fill="#2962ff" font-weight="normal" text-anchor="start" textLength="49.2" lengthAdjust="spacingAndGlyphs" >Trading-Panel</text>
<rect x="33" y="521.6" width="927" height="0.9" fill="#ebedf2"/>
<rect x="953" y="514.2" width="7" height="1" fill="#555"/>
<rect x="0" y="540" width="960" height="4.6" fill="#1f55b8"/>
<rect x="0" y="544.6" width="960" height="55.4" fill="#f1f4fc"/>
<defs><linearGradient id="wg" gradientUnits="userSpaceOnUse" x1="348" y1="0" x2="376" y2="0"><stop offset="0" stop-color="#c3cdee"/><stop offset="0.3" stop-color="#a6b8e8"/><stop offset="0.5" stop-color="#7c99de"/><stop offset="0.66" stop-color="#3f6fd0"/><stop offset="0.85" stop-color="#2059c6"/><stop offset="1" stop-color="#1f56c2"/></linearGradient></defs>
<path d="M348 565.4 L353.9 565.4 L358.6 581 L363.1 565.4 L368.2 565.4 L372.4 579.6 L378.1 560.2 L376.2 559.6 L382.9 554 L385.2 559.3 L383.7 560 L375.5 588.9 L369.3 588.9 L365.6 575.5 L361.6 588.9 L355 588.9 Z" fill="url(#wg)"/>
<text transform="translate(385.80,588.8) scale(1.1435,1) translate(-2.204,0)" font-size="33.4" font-weight="bold" fill="#20232b">I</text>
<text transform="translate(393.30,588.8) scale(1.0184,1) translate(-0.434,0)" font-size="33.4" font-weight="bold" fill="#20232b">T</text>
<text transform="translate(415.80,588.8) scale(1.1377,1) translate(-1.035,0)" font-size="33.4" font-weight="bold" fill="#20232b">Z</text>
<text transform="translate(440.00,588.8) scale(0.9323,1) translate(-2.204,0)" font-size="33.4" font-weight="bold" fill="#20232b">E</text>
<text transform="translate(461.70,588.8) scale(0.9632,1) translate(-2.204,0)" font-size="33.4" font-weight="bold" fill="#20232b">L</text>
<text transform="translate(479.70,588.8) scale(0.9839,1) translate(-0.735,0)" font-size="33.4" font-weight="normal" fill="#20232b">T</text>
<text transform="translate(502.40,588.8) scale(0.9577,1) translate(-2.705,0)" font-size="33.4" font-weight="normal" fill="#20232b">R</text>
<text transform="translate(523.10,588.8) scale(1.0402,1) translate(-0.100,0)" font-size="33.4" font-weight="normal" fill="#20232b">A</text>
<text transform="translate(550.90,588.8) scale(1.0131,1) translate(-2.705,0)" font-size="33.4" font-weight="normal" fill="#20232b">D</text>
<text transform="translate(576.80,588.8) scale(1.1844,1) translate(-3.140,0)" font-size="33.4" font-weight="normal" fill="#20232b">I</text>
<text transform="translate(586.90,588.8) scale(1.0873,1) translate(-2.705,0)" font-size="33.4" font-weight="normal" fill="#20232b">N</text>
<text transform="translate(611.70,588.8) scale(1.0958,1) translate(-1.670,0)" font-size="33.4" font-weight="normal" fill="#20232b">G</text>
</svg></body></html>
